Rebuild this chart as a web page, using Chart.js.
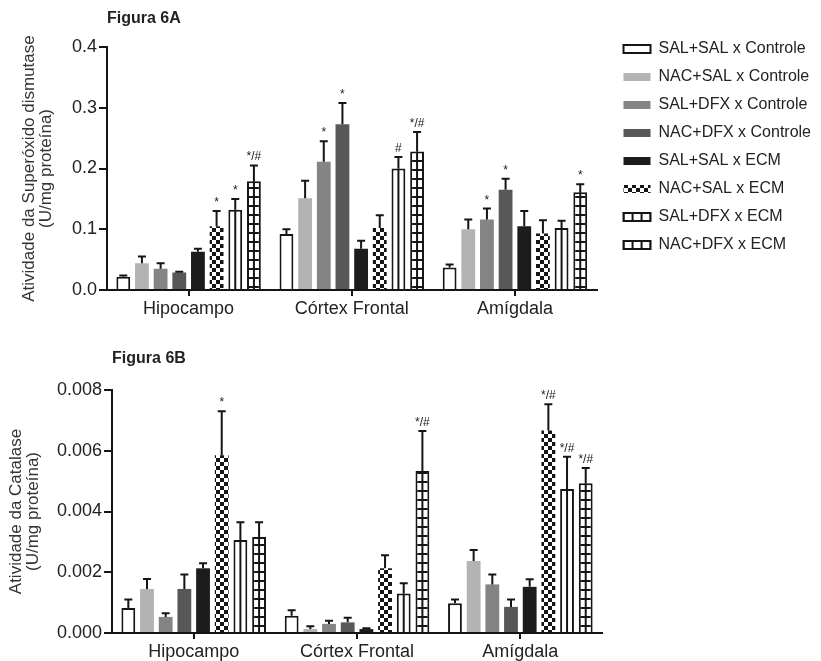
<!DOCTYPE html>
<html><head><meta charset="utf-8">
<script src="https://cdn.jsdelivr.net/npm/chart.js@4.4.1/dist/chart.umd.min.js"></script>
<style>
html,body{margin:0;padding:0;background:#fff;overflow:hidden;width:821px;height:661px}
#w1{position:absolute;left:0;top:0;width:821px;height:330px}
#w2{position:absolute;left:0;top:330px;width:821px;height:335px}
</style></head><body>
<div id="w1"><canvas id="c1"></canvas></div>
<div id="w2"><canvas id="c2"></canvas></div>
<script>
// ---------- data ----------
const categories = ['Hipocampo', 'Córtex Frontal', 'Amígdala'];
const seriesLabels = ['SAL+SAL x Controle', 'NAC+SAL x Controle', 'SAL+DFX x Controle', 'NAC+DFX x Controle',
                      'SAL+SAL x ECM', 'NAC+SAL x ECM', 'SAL+DFX x ECM', 'NAC+DFX x ECM'];

// Figura 6A - Superóxido dismutase (mean, SEM)
const sodSalSalCtrl = [0.022, 0.092, 0.037];  const sodSalSalCtrlSem = [0.002, 0.008, 0.005];
const sodNacSalCtrl = [0.044, 0.151, 0.100];  const sodNacSalCtrlSem = [0.011, 0.029, 0.016];
const sodSalDfxCtrl = [0.035, 0.211, 0.116];  const sodSalDfxCtrlSem = [0.009, 0.034, 0.018];
const sodNacDfxCtrl = [0.029, 0.273, 0.165];  const sodNacDfxCtrlSem = [0.001, 0.035, 0.018];
const sodSalSalEcm  = [0.063, 0.068, 0.105];  const sodSalSalEcmSem  = [0.005, 0.013, 0.025];
const sodNacSalEcm  = [0.105, 0.102, 0.093];  const sodNacSalEcmSem  = [0.025, 0.021, 0.022];
const sodSalDfxEcm  = [0.132, 0.200, 0.102];  const sodSalDfxEcmSem  = [0.018, 0.019, 0.012];
const sodNacDfxEcm  = [0.179, 0.228, 0.161];  const sodNacDfxEcmSem  = [0.026, 0.032, 0.013];
const sodNotes = [['','',''],['','',''],['','*','*'],['','*','*'],['','',''],['*','',''],['*','#',''],['*/#','*/#','*']];

// Figura 6B - Catalase (mean, SEM)
const catSalSalCtrl = [0.00082, 0.00057, 0.00098]; const catSalSalCtrlSem = [0.00028, 0.00018, 0.00012];
const catNacSalCtrl = [0.00145, 0.00013, 0.00237]; const catNacSalCtrlSem = [0.00033, 0.00009, 0.00036];
const catSalDfxCtrl = [0.00053, 0.00030, 0.00160]; const catSalDfxCtrlSem = [0.00012, 0.00010, 0.00033];
const catNacDfxCtrl = [0.00145, 0.00035, 0.00086]; const catNacDfxCtrlSem = [0.00048, 0.00015, 0.00024];
const catSalSalEcm  = [0.00213, 0.00013, 0.00152]; const catSalSalEcmSem  = [0.00017, 0.00003, 0.00025];
const catNacSalEcm  = [0.00585, 0.00213, 0.00667]; const catNacSalEcmSem  = [0.00145, 0.00043, 0.00086];
const catSalDfxEcm  = [0.00306, 0.00130, 0.00474]; const catSalDfxEcmSem  = [0.00059, 0.00034, 0.00106];
const catNacDfxEcm  = [0.00316, 0.00533, 0.00493]; const catNacDfxEcmSem  = [0.00049, 0.00132, 0.00050];
const catNotes = [['','',''],['','',''],['','',''],['','',''],['','',''],['*','','*/#'],['','','*/#'],['','*/#','*/#']];

const sodTicks = [0, 0.1, 0.2, 0.3, 0.4];
const catTicks = [0, 0.002, 0.004, 0.006, 0.008];

// ---------- styling ----------
const FONT = "'Liberation Sans', Arial, Helvetica, sans-serif";
const INK = '#151515';
function makePattern(type) {
  const c = document.createElement('canvas');
  const g = c.getContext('2d');
  if (type === 'checker') {
    c.width = 8; c.height = 8;
    g.fillStyle = '#fff'; g.fillRect(0, 0, 8, 8);
    g.fillStyle = INK; g.fillRect(0, 0, 4, 4); g.fillRect(4, 4, 4, 4);
  } else if (type === 'hlines') {
    c.width = 4; c.height = 9;
    g.fillStyle = '#fff'; g.fillRect(0, 0, 4, 9);
    g.fillStyle = INK; g.fillRect(0, 7, 4, 2);
  } else {
    c.width = 9; c.height = 4;
    g.fillStyle = '#fff'; g.fillRect(0, 0, 9, 4);
    g.fillStyle = INK; g.fillRect(0, 0, 2, 4);
  }
  return g.createPattern(c, 'repeat');
}
const checker = makePattern('checker');
const hlines = makePattern('hlines');
const legendStripe = makePattern('vlines');
const fills = ['#ffffff', '#b3b3b3', '#848484', '#585858', '#1c1c1c', checker, '#ffffff', hlines];
const borders = [2, 0, 0, 0, 0, 0, 2, 2];

function buildDatasets(means) {
  return means.map((m, i) => ({
    label: seriesLabels[i],
    data: m,
    backgroundColor: fills[i],
    borderColor: INK,
    borderWidth: borders[i],
    barPercentage: 0.74,
    categoryPercentage: 0.915
  }));
}

function makeErrPlugin(sems, notes) {
  return {
    id: 'errbars',
    afterDatasetsDraw(chart) {
      const ctx = chart.ctx, y = chart.scales.y;
      ctx.save();
      chart.data.datasets.forEach((ds, d) => {
        const meta = chart.getDatasetMeta(d);
        meta.data.forEach((el, j) => {
          ctx.strokeStyle = INK; ctx.lineWidth = 2;
          if (d === 6 || d === 7) {
            ctx.beginPath(); ctx.moveTo(el.x, el.y); ctx.lineTo(el.x, el.base); ctx.stroke();
          }
          const top = y.getPixelForValue(ds.data[j] + sems[d][j]);
          ctx.beginPath();
          ctx.moveTo(el.x, el.y); ctx.lineTo(el.x, top);
          ctx.moveTo(el.x - 4, top); ctx.lineTo(el.x + 4, top);
          ctx.stroke();
          const t = notes[d][j];
          if (t) {
            ctx.fillStyle = '#222'; ctx.font = '12px ' + FONT;
            ctx.textAlign = 'center'; ctx.textBaseline = 'alphabetic';
            ctx.fillText(t, el.x, top - 5);
          }
        });
      });
      ctx.restore();
    }
  };
}

const legendAlign = {
  id: 'legendAlign',
  beforeDraw(chart) {
    if (chart.legend && chart.legend.left !== undefined) {
      const bx = chart.legend.left + 12;
      legendStripe.setTransform(new DOMMatrix([1, 0, 0, 1, bx + 8, 0]));
    }
  }
};

function xAxis() {
  return {
    z: 1, offset: true,
    grid: { display: true, offset: false, drawOnChartArea: false, drawTicks: true, tickLength: 6, color: INK, lineWidth: 2 },
    border: { display: true, color: INK, width: 2 },
    ticks: { color: '#222', font: { family: FONT, size: 18 }, padding: 2, maxRotation: 0, autoSkip: false }
  };
}
function yAxis(tickVals, decimals, titleLines, padT, padB) {
  return {
    z: 1, min: tickVals[0], max: tickVals[tickVals.length - 1],
    afterBuildTicks(s) { s.ticks = tickVals.map(v => ({ value: v })); },
    ticks: { callback: v => Number(v).toFixed(decimals), color: '#222', font: { family: FONT, size: 18 }, padding: 2 },
    grid: { drawOnChartArea: false, drawTicks: true, tickLength: 8, color: INK, lineWidth: 2 },
    border: { display: true, color: INK, width: 2 },
    title: { display: true, text: titleLines, color: '#333', font: { family: FONT, size: 17, lineHeight: 1.05 }, padding: { top: padT, bottom: padB } }
  };
}

// ---------- chart A ----------
new Chart(document.getElementById('c1'), {
  type: 'bar',
  data: {
    labels: categories,
    datasets: buildDatasets([sodSalSalCtrl, sodNacSalCtrl, sodSalDfxCtrl, sodNacDfxCtrl, sodSalSalEcm, sodNacSalEcm, sodSalDfxEcm, sodNacDfxEcm])
  },
  options: {
    responsive: true, maintainAspectRatio: false, animation: false, devicePixelRatio: 1,
    layout: { padding: { left: 10, top: 0, right: 0, bottom: 8.4 } },
    plugins: {
      tooltip: { enabled: false },
      title: { display: true, text: 'Figura 6A', align: 'start', fullSize: false, color: '#222',
               font: { family: FONT, size: 16, weight: 'bold', lineHeight: 1.2 }, padding: { top: 9.4, bottom: 18.4 } },
      legend: {
        display: true, position: 'right', align: 'start', fullSize: true, maxWidth: 240,
        title: { display: true, text: ' ', font: { size: 10, lineHeight: 1.2 }, padding: { top: 17, bottom: 0 } },
        labels: {
          boxWidth: 27, boxHeight: 8, padding: 12, color: '#222', font: { family: FONT, size: 16 },
          generateLabels(chart) {
            const items = Chart.defaults.plugins.legend.labels.generateLabels(chart);
            items.forEach((it, i) => {
              if (i === 6 || i === 7) it.fillStyle = legendStripe;
              it.lineWidth = borders[i];
              it.strokeStyle = INK;
            });
            return items;
          }
        }
      }
    },
    scales: {
      x: xAxis(),
      y: yAxis(sodTicks, 1, ['Atividade da Superóxido dismutase', '(U/mg proteína)'], 10, 14.3),
      yPad: { position: 'right', display: true, grid: { display: false, drawTicks: false }, border: { display: false },
              ticks: { display: false }, afterFit(s) { s.width = 15; } }
    }
  },
  plugins: [makeErrPlugin(
    [sodSalSalCtrlSem, sodNacSalCtrlSem, sodSalDfxCtrlSem, sodNacDfxCtrlSem, sodSalSalEcmSem, sodNacSalEcmSem, sodSalDfxEcmSem, sodNacDfxEcmSem],
    sodNotes), legendAlign]
});

// ---------- chart B ----------
new Chart(document.getElementById('c2'), {
  type: 'bar',
  data: {
    labels: categories,
    datasets: buildDatasets([catSalSalCtrl, catNacSalCtrl, catSalDfxCtrl, catNacDfxCtrl, catSalSalEcm, catNacSalEcm, catSalDfxEcm, catNacDfxEcm])
  },
  options: {
    responsive: true, maintainAspectRatio: false, animation: false, devicePixelRatio: 1,
    layout: { padding: { left: 0, top: 0, right: 219, bottom: 0.4 } },
    plugins: {
      tooltip: { enabled: false },
      legend: { display: false },
      title: { display: true, text: 'Figura 6B', align: 'start', fullSize: false, color: '#222',
               font: { family: FONT, size: 16, weight: 'bold', lineHeight: 1.2 }, padding: { top: 19.4, bottom: 21.4 } }
    },
    scales: {
      x: xAxis(),
      y: yAxis(catTicks, 3, ['Atividade da Catalase', '(U/mg proteína)'], 7, 12.3)
    }
  },
  plugins: [makeErrPlugin(
    [catSalSalCtrlSem, catNacSalCtrlSem, catSalDfxCtrlSem, catNacDfxCtrlSem, catSalSalEcmSem, catNacSalEcmSem, catSalDfxEcmSem, catNacDfxEcmSem],
    catNotes)]
});
</script>
</body></html>
